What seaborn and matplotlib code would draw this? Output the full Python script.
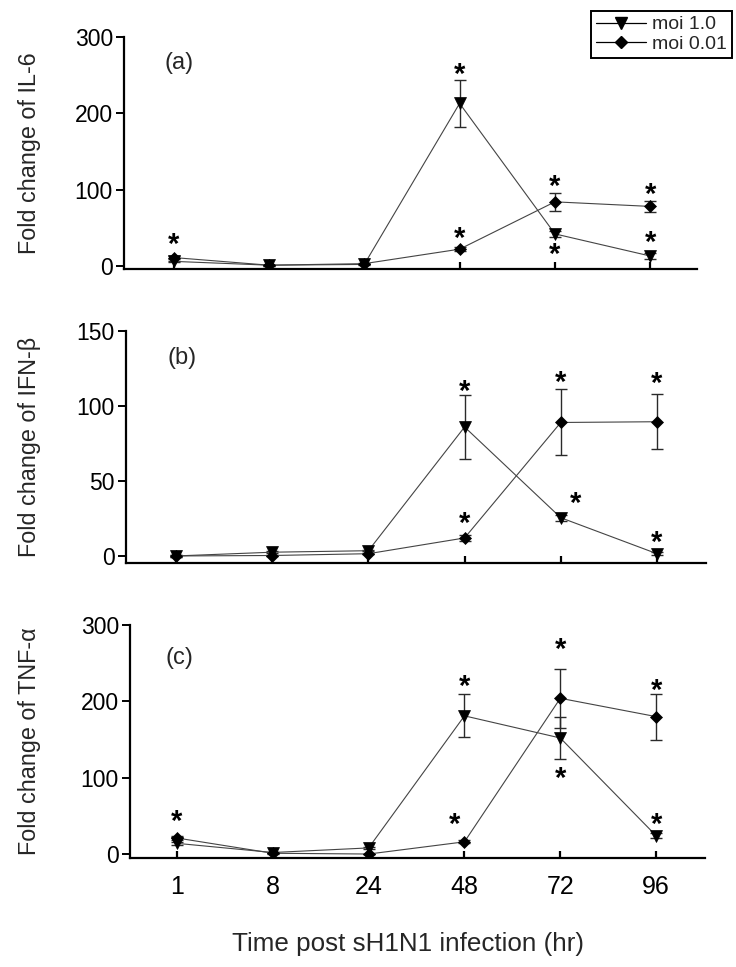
import numpy as np
import pandas as pd
import matplotlib
matplotlib.use("Agg")
import matplotlib.pyplot as plt
import seaborn as sns
from matplotlib.lines import Line2D

# ---------------- data ----------------
times = ["1", "8", "24", "48", "72", "96"]
series_names = ["moi 1.0", "moi 0.01"]

il6_moi1 = [6, 1, 2, 213, 42, 13]
il6_moi1_err = [1, 0.5, 0.5, 31, 4, 4]
il6_moi001 = [11, 1, 3, 22, 84, 78]
il6_moi001_err = [2, 0.5, 0.5, 3, 12, 7]

ifn_moi1 = [0, 2.5, 3.5, 86, 25.5, 1.5]
ifn_moi1_err = [0.5, 0.5, 0.5, 21.5, 2, 1]
ifn_moi001 = [0, 0.3, 1.5, 12, 89, 89.5]
ifn_moi001_err = [0.5, 0.3, 0.5, 2, 22, 18.5]

tnf_moi1 = [14, 2, 8, 181, 152, 24]
tnf_moi1_err = [2, 0.5, 1, 28, 27, 3]
tnf_moi001 = [21, 1, 0, 16, 204, 180]
tnf_moi001_err = [2, 0.5, 0.5, 2, 39, 30]

# asterisks: (x position index, y value)
il6_stars_x = [0, 3, 3, 4, 4, 5, 5]
il6_stars_y = [34, 258, 43, 110, 21, 100, 37]
ifn_stars_x = [3, 3, 4, 4.15, 5, 5]
ifn_stars_y = [113, 25, 119, 38.5, 118, 12]
tnf_stars_x = [0, 3, 2.9, 4, 4, 5, 5]
tnf_stars_y = [49, 226, 45, 274, 106, 221, 45]

ylabels = ["Fold change of IL-6", "Fold change of IFN-\u03b2", "Fold change of TNF-\u03b1"]
panel_tags = ["(a)", "(b)", "(c)"]
yticks_list = [[0, 100, 200, 300], [0, 50, 100, 150], [0, 100, 200, 300]]
xlabel = "Time post sH1N1 infection (hr)"

# ---------------- style ----------------
sns.set_style("ticks")
plt.rcParams["font.family"] = ["Liberation Sans", "DejaVu Sans"]

W, H = 736, 967
fig = plt.figure(figsize=(W / 100, H / 100), dpi=100)

def rect(left, right, top, bottom):
    return [left / W, 1 - bottom / H, (right - left) / W, (bottom - top) / H]

rects = [rect(124, 697, 37, 269), rect(126, 706, 331, 563), rect(130, 705, 625, 858)]
ylims = [(-4, 300), (-4.7, 150), (-5.2, 300)]
xlims = [(-0.52, 5.49), (-0.52, 5.51), (-0.49, 5.51)]
tag_pos = [(179, 63), (182, 358), (179, 658)]

panels = [
    (il6_moi1, il6_moi1_err, il6_moi001, il6_moi001_err, il6_stars_x, il6_stars_y),
    (ifn_moi1, ifn_moi1_err, ifn_moi001, ifn_moi001_err, ifn_stars_x, ifn_stars_y),
    (tnf_moi1, tnf_moi1_err, tnf_moi001, tnf_moi001_err, tnf_stars_x, tnf_stars_y),
]

line_color = "#444444"
pos = np.arange(len(times))
star_fs = 21

for k, (m1, e1, m2, e2, sx, sy) in enumerate(panels):
    ax = fig.add_axes(rects[k])
    df = pd.DataFrame({
        "pos": np.concatenate([pos, pos]),
        "value": np.concatenate([m1, m2]),
        "err": np.concatenate([e1, e2]),
        "series": [series_names[0]] * len(pos) + [series_names[1]] * len(pos),
    })
    d1 = df[df.series == series_names[0]]
    d2 = df[df.series == series_names[1]]
    # error bars
    ax.errorbar(d1.pos, d1.value, yerr=d1.err, fmt="none", ecolor="#2a2a2a",
                elinewidth=1.0, capsize=4, capthick=1.0, zorder=2)
    ax.errorbar(d2.pos, d2.value, yerr=d2.err, fmt="none", ecolor="#2a2a2a",
                elinewidth=1.0, capsize=4, capthick=1.0, zorder=2)
    sns.lineplot(data=d1, x="pos", y="value", ax=ax, color=line_color, lw=0.8,
                 marker="v", ms=9, mfc="black", mec="black", mew=0.5,
                 legend=False, zorder=3)
    sns.lineplot(data=d2, x="pos", y="value", ax=ax, color=line_color, lw=0.8,
                 marker="D", ms=6.5, mfc="black", mec="black", mew=0.5,
                 legend=False, zorder=4)
    # asterisks
    for x, y in zip(sx, sy):
        ax.annotate("*", (x, y), xytext=(0, -0.46 * star_fs), textcoords="offset points",
                    ha="center", va="baseline", fontsize=star_fs, fontweight="bold",
                    color="black")
    ax.set_xlim(*xlims[k])
    ax.set_ylim(*ylims[k])
    ax.set_yticks(yticks_list[k])
    ax.set_xticks(pos)
    ax.set_xlabel("")
    ax.set_ylabel("")
    for s in ["top", "right"]:
        ax.spines[s].set_visible(False)
    for s in ["left", "bottom"]:
        ax.spines[s].set_linewidth(1.6)
        ax.spines[s].set_color("black")
    ax.tick_params(axis="y", direction="out", length=6, width=1.4, pad=2,
                   labelsize=16.5, colors="black")
    ax.tick_params(axis="x", direction="in", length=5, width=1.6, pad=12,
                   labelsize=18, colors="black")
    if k < 2:
        ax.set_xticklabels([])
    else:
        ax.set_xticklabels(times)
    ax.set_facecolor("white")
    fig.text(30 / W, rects[k][1] + rects[k][3] / 2, ylabels[k], rotation=90,
             ha="center", va="center", fontsize=16.8)
    fig.text(tag_pos[k][0] / W, 1 - tag_pos[k][1] / H, panel_tags[k],
             ha="center", va="center", fontsize=17)

fig.text(408 / W, 1 - 944 / H, xlabel, ha="center", va="center", fontsize=18.7)

handles = [
    Line2D([], [], color="black", lw=0.9, marker="v", ms=9, mfc="black", mec="black"),
    Line2D([], [], color="black", lw=0.9, marker="D", ms=6.5, mfc="black", mec="black"),
]
leg = fig.legend(handles, series_names, loc="upper right",
                 bbox_to_anchor=(732 / W, 1 - 11 / H), fontsize=14,
                 frameon=True, fancybox=False, framealpha=1, edgecolor="black",
                 handlelength=2.6, handletextpad=0.3, borderpad=0.25,
                 labelspacing=0.1, borderaxespad=0)
leg.get_frame().set_linewidth(1.4)

fig.savefig("out.png", dpi=100, facecolor="white")
